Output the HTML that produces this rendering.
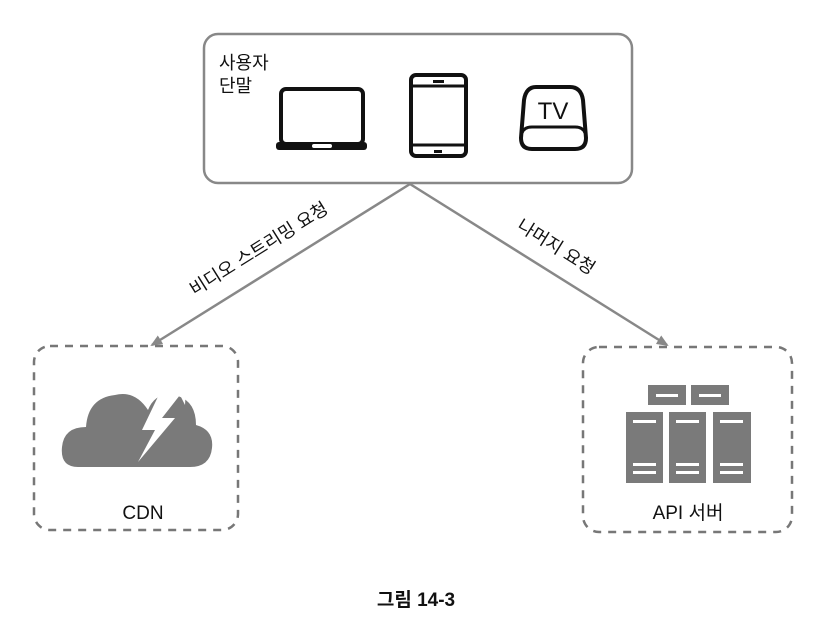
<!DOCTYPE html>
<html><head><meta charset="utf-8"><style>
html,body{margin:0;padding:0;background:#fff;}
svg{display:block}
text{font-family:"Liberation Sans","Noto Sans CJK KR",sans-serif;fill:#111}
</style></head><body>
<svg width="832" height="628" viewBox="0 0 832 628" xmlns="http://www.w3.org/2000/svg">
<defs>
<marker id="ah" markerWidth="12" markerHeight="10" refX="10" refY="5" orient="auto" markerUnits="userSpaceOnUse">
<path d="M0,0 L12,5 L0,10 Z" fill="#888"/>
</marker>
</defs>
<rect x="204" y="34" width="428" height="149" rx="14" fill="#fff" stroke="#888" stroke-width="2.5"/>
<text x="219" y="69" font-size="18">사용자</text>
<text x="219" y="92" font-size="18">단말</text>
<rect x="281" y="89" width="82" height="55" rx="5" fill="none" stroke="#111" stroke-width="4"/>
<rect x="276" y="142" width="91" height="8" rx="3" fill="#111"/>
<rect x="312" y="144" width="20" height="4" rx="2" fill="#fff"/>
<rect x="411" y="75" width="55" height="81" rx="5" fill="none" stroke="#111" stroke-width="4"/>
<line x1="411" y1="86" x2="466" y2="86" stroke="#111" stroke-width="3"/>
<line x1="411" y1="145" x2="466" y2="145" stroke="#111" stroke-width="3"/>
<rect x="433" y="80" width="11" height="3" fill="#111"/>
<rect x="434" y="150" width="8" height="3" fill="#111"/>
<path d="M536,87 L570,87 Q581,87 583,100 L586,138 Q586,149 575,149 L532,149 Q521,149 521,138 L524,100 Q526,87 536,87 Z" fill="none" stroke="#111" stroke-width="4"/>
<path d="M522,133 Q524,127 532,127 L575,127 Q583,127 585,133" fill="none" stroke="#111" stroke-width="3"/>
<text x="553" y="119" font-size="24" text-anchor="middle">TV</text>
<line x1="410" y1="184" x2="152" y2="345" stroke="#888" stroke-width="2.5" marker-end="url(#ah)"/>
<line x1="410" y1="184" x2="667" y2="345" stroke="#888" stroke-width="2.5" marker-end="url(#ah)"/>
<text font-size="18" text-anchor="middle" transform="translate(262,254) rotate(-32)">비디오 스트리밍 요청</text>
<text font-size="18" text-anchor="middle" transform="translate(553,252) rotate(32)">나머지 요청</text>
<rect x="34" y="346" width="204" height="184" rx="16" fill="none" stroke="#777" stroke-width="2.5" stroke-dasharray="8,7"/>
<path d="M78,467 Q60,467 62,447 Q64,427 86,427 Q88,398 115,395 Q135,390 148,410 Q156,390 178,396 Q196,402 196,425 Q214,430 212,448 Q210,467 190,467 Z" fill="#7a7a7a"/>
<path d="M165,382 L142,430 L155,430 L138,462 L175,418 L162,418 L180,395 L185,405 L186,388 Z" fill="#fff"/>
<text x="143" y="519" font-size="19" text-anchor="middle">CDN</text>
<rect x="583" y="347" width="209" height="185" rx="16" fill="none" stroke="#777" stroke-width="2.5" stroke-dasharray="8,7"/>
<g fill="#7a7a7a">
<rect x="648" y="385" width="38" height="20"/>
<rect x="691" y="385" width="38" height="20"/>
<rect x="626" y="412" width="37" height="71"/>
<rect x="669" y="412" width="37" height="71"/>
<rect x="713" y="412" width="38" height="71"/>
</g>
<g fill="#fff">
<rect x="656" y="394" width="22" height="3"/><rect x="699" y="394" width="22" height="3"/>
<rect x="633" y="420" width="23" height="3"/><rect x="676" y="420" width="23" height="3"/><rect x="720" y="420" width="23" height="3"/>
<rect x="633" y="463" width="23" height="3"/><rect x="676" y="463" width="23" height="3"/><rect x="720" y="463" width="23" height="3"/>
<rect x="633" y="471" width="23" height="3"/><rect x="676" y="471" width="23" height="3"/><rect x="720" y="471" width="23" height="3"/>
</g>
<text x="688" y="519" font-size="19" text-anchor="middle">API 서버</text>
<text x="416" y="606" font-size="19" font-weight="bold" text-anchor="middle">그림 14-3</text>
</svg>
</body></html>
